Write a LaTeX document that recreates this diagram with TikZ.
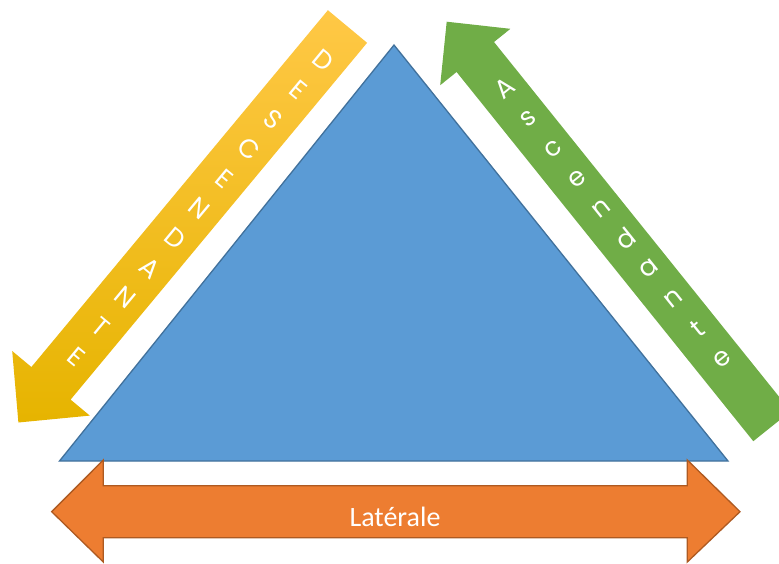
\documentclass[tikz,border=0pt]{standalone}
\usepackage{fontspec}
\newfontfamily\calib{Carlito}
\newfontfamily\geo{Poppins}
\definecolor{triblue}{HTML}{5B9BD5}
\definecolor{triedge}{HTML}{41719C}
\definecolor{orfill}{HTML}{ED7D31}
\definecolor{oredge}{HTML}{AE5A21}
\definecolor{grfill}{HTML}{70AD47}
\definecolor{yltop}{HTML}{FFC846}
\definecolor{ylmid}{HTML}{FFC000}
\definecolor{ylbot}{HTML}{E6B400}
\tikzset{
  letterstyle/.style={text=white, font=\geo\fontsize{26}{26}\selectfont, inner sep=0pt},
  latstyle/.style={text=white, font=\calib\fontsize{28}{30}\selectfont, inner sep=0pt},
}
\begin{document}
\begin{tikzpicture}[x=1pt,y=-1pt]
\useasboundingbox (0,0) rectangle (779,563);
\clip (0,0) rectangle (779,563);
% triangle
\draw[fill=triblue, draw=triedge, line width=1.3pt, line join=miter]
  (394,45) -- (728,461) -- (59.5,461) -- cycle;
% orange double arrow
\draw[fill=orfill, draw=oredge, line width=1.3pt, line join=miter]
  (51.7,511.7) -- (103.3,460) -- (103.3,485.7) -- (687.3,485.7) -- (687.3,460)
  -- (740,511.7) -- (687.3,562) -- (687.3,537.7) -- (103.3,537.7) -- (103.3,562) -- cycle;
\node[latstyle] (lat) at (395,517) {Latérale};
% yellow descending arrow
\shade[top color=yltop, middle color=ylmid, bottom color=ylbot]
  (327.9,10.2) -- (367.1,42.8) -- (70.6,399.6) -- (89.8,415.6) -- (18.4,422.5)
  -- (12.2,351) -- (31.4,367) -- cycle;
\foreach \c [count=\i from 0] in {D,E,S,C,E,N,D,A,N,T,E} {
  \pgfmathsetmacro\s{41.5+38.6*\i}
  \node[letterstyle, rotate=-39.7] (desc\i) at ({347.5-0.639*\s+2.5*0.769},{26.5+0.769*\s+2.5*0.639}) {\c};
}
% green ascending arrow
\fill[grfill]
  (446.7,21.7) -- (510.4,28.8) -- (494,42) -- (790.7,411.2) -- (753.3,441.2)
  -- (456.6,72) -- (440.2,85.2) -- cycle;
\foreach \c [count=\i from 0] in {A,s,c,e,n,d,a,n,t,e} {
  \pgfmathsetmacro\s{42.7+38.6*\i}
  \node[letterstyle, rotate=38.8] (asc\i) at ({475.3+0.626*\s+3*0.779},{57+0.779*\s-3*0.626}) {\c};
}
\end{tikzpicture}
\end{document}
